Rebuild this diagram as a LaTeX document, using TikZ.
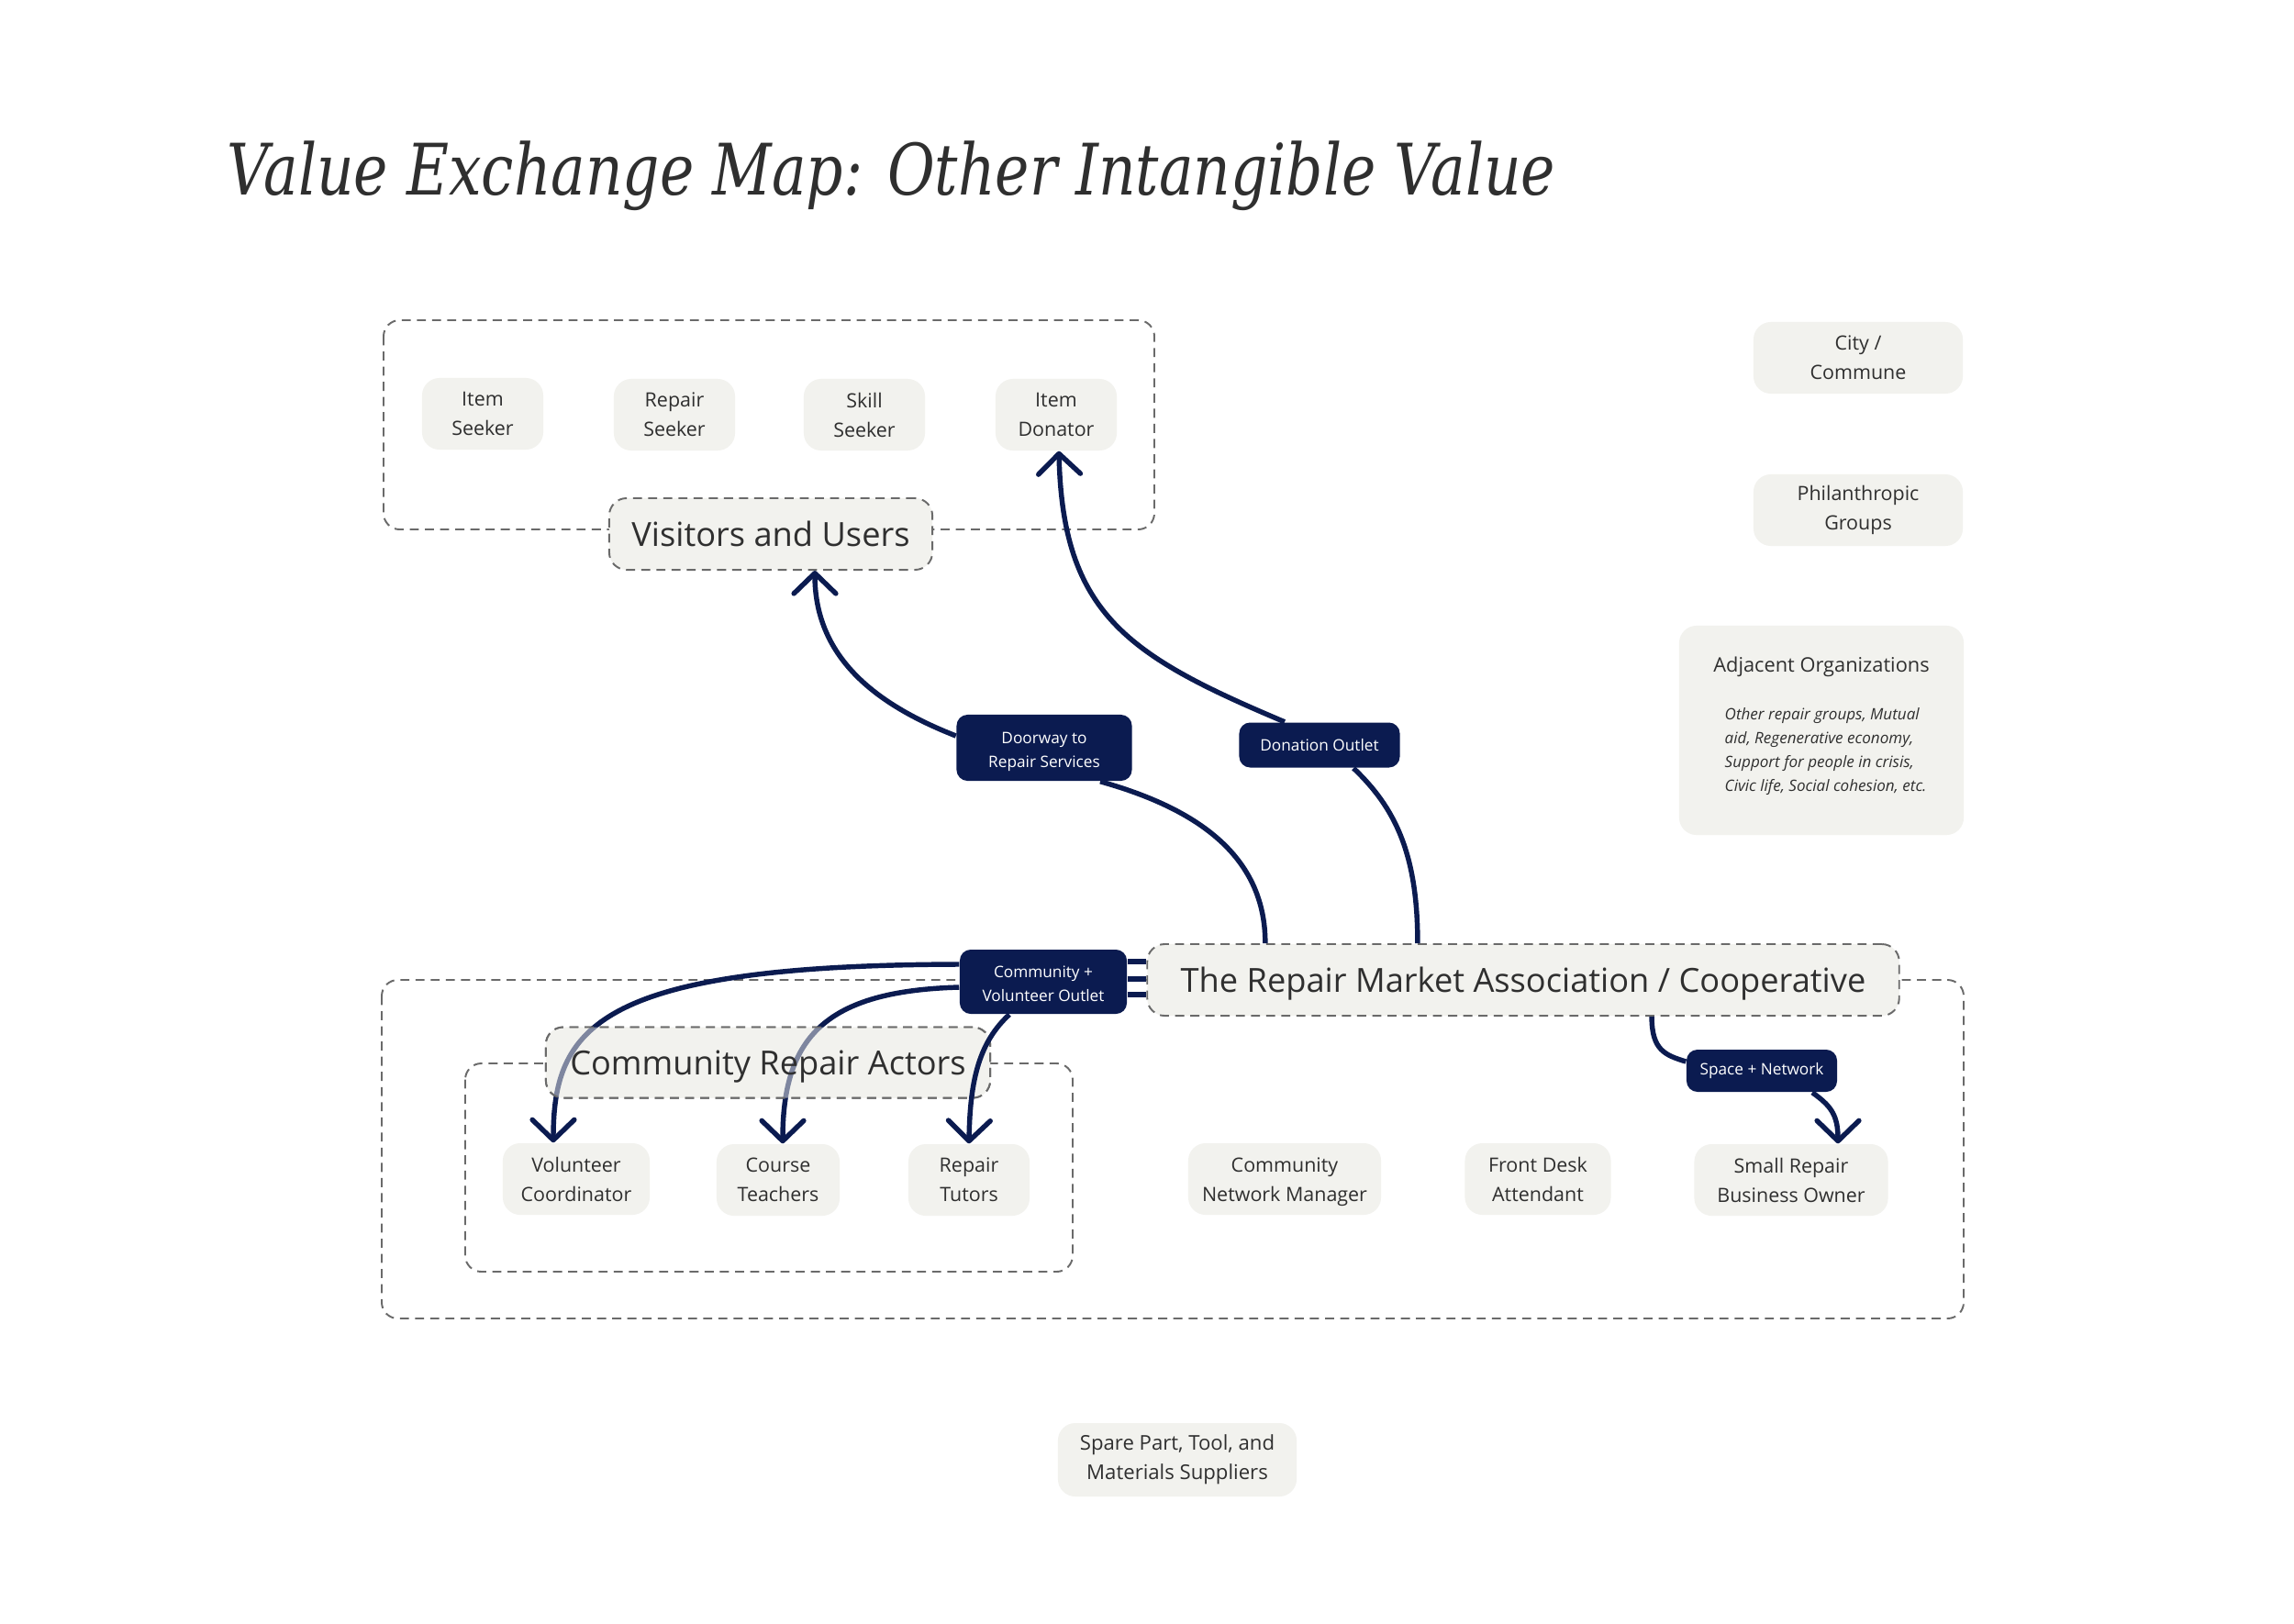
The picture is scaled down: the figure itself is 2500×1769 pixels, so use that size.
\documentclass[tikz,border=0pt]{standalone}
\usepackage{fontspec}
\setmainfont{Open Sans}
\newfontfamily\titlefont[FakeStretch=0.815]{DejaVu Serif}
\usetikzlibrary{arrows.meta}
\definecolor{navy}{HTML}{0B1B50}
\definecolor{paper}{HTML}{F2F2EE}
\definecolor{ink}{HTML}{2F2F2F}
\definecolor{dashc}{HTML}{6A6A6A}
\tikzset{
  actor/.style={fill=paper, rounded corners=5.4pt, inner sep=0pt, minimum height=0.78cm, align=center, text=ink, font=\fontsize{6.1}{9.1}\selectfont},
  groupbox/.style={draw=dashc, line width=0.55pt, dash pattern=on 2.8pt off 1.9pt, rounded corners=5pt},
  grouplabel/.style={fill=paper, draw=dashc, line width=0.55pt, dash pattern=on 2.8pt off 1.9pt, rounded corners=5.4pt, inner sep=0pt, minimum height=0.78cm, text height=0.78em, text depth=0pt, text=ink, font=\fontsize{10.3}{12}\selectfont},
  tag/.style={fill=navy, rounded corners=3.4pt, inner sep=0pt, align=center, text=white, font=\fontsize{4.9}{7.3}\selectfont},
  conn/.style={draw=navy, line width=1.55pt},
  arr/.style={-{Straight Barb[length=6.3pt,width=13pt,round]}}
}
\begin{document}
\begin{tikzpicture}[x=0.01cm, y=-0.01cm]
\useasboundingbox (0,0) rectangle (2500,1769);
\fill[white] (0,0) rectangle (2500,1769);

% title
\node[anchor=base west, inner sep=0pt, text=ink, font=\titlefont\itshape\fontsize{22}{26}\selectfont] (title) at (247,212) {Value Exchange Map: Other Intangible Value};

% group boxes
\draw[groupbox] (418,349) rectangle (1258,577);
\draw[groupbox] (416,1068) rectangle (2140,1437);
\draw[groupbox] (507,1159) rectangle (1169,1386);

% visitors and users
\node[actor, minimum width=1.32cm] (itemseek) at (526,451) {Item\\Seeker};
\node[actor, minimum width=1.32cm] (repseek) at (735,452) {Repair\\Seeker};
\node[actor, minimum width=1.32cm] (skillseek) at (942,452) {Skill\\Seeker};
\node[actor, minimum width=1.32cm] (donor) at (1151,452) {Item\\Donator};
\node[grouplabel, minimum width=3.52cm] (vis) at (840,582) {Visitors and Users};

% right column
\node[actor, minimum width=2.28cm] (city) at (2025,390) {City /\\Commune};
\node[actor, minimum width=2.28cm] (phil) at (2025,556) {Philanthropic\\Groups};
\node[actor, minimum width=3.10cm, minimum height=2.28cm] (adj) at (1985,796) {};
\node[inner sep=0pt, text=ink, font=\fontsize{6.2}{8}\selectfont] (adjtitle) at (1985,727) {Adjacent Organizations};
\node[inner sep=0pt, anchor=west, align=left, text=ink, font=\itshape\fontsize{4.85}{7.4}\selectfont] (adjtext) at (1879,819) {Other repair groups, Mutual\\aid, Regenerative economy,\\Support for people in crisis,\\Civic life, Social cohesion, etc.};

% association
\node[grouplabel, minimum width=8.19cm] (rma) at (1660,1068) {The Repair Market Association / Cooperative};

% community repair actors
\node[grouplabel, minimum width=4.84cm, minimum height=0.77cm] (crabg) at (837,1158) {};

% bottom row
\node[actor, minimum width=1.60cm] (vc) at (628,1285) {Volunteer\\Coordinator};
\node[actor, minimum width=1.34cm] (ct) at (848,1286) {Course\\Teachers};
\node[actor, minimum width=1.32cm] (rt) at (1056,1286) {Repair\\Tutors};
\node[actor, minimum width=2.10cm] (cnm) at (1400,1285) {\rule{0pt}{1.07em}Community\\Network Manager};
\node[actor, minimum width=1.59cm] (fda) at (1676,1285) {Front Desk\\Attendant};
\node[actor, minimum width=2.11cm] (sbo) at (1952,1286) {Small Repair\\Business Owner};
\node[actor, minimum width=2.60cm, minimum height=0.80cm, font=\fontsize{6.3}{9.2}\selectfont] (spare) at (1283,1591) {Spare Part, Tool, and\\Materials Suppliers};

% tags
\node[tag, minimum width=1.91cm, minimum height=0.72cm] (door) at (1138,815) {\rule{0pt}{1.25em}Doorway to\\Repair Services};
\node[tag, minimum width=1.75cm, minimum height=0.49cm] (don) at (1438,812) {Donation Outlet};
\node[tag, minimum width=1.82cm, minimum height=0.70cm] (out) at (1137,1070) {\rule{0pt}{1.0em}Community +\\Volunteer Outlet};
\node[tag, minimum width=1.64cm, minimum height=0.46cm] (sn) at (1920,1167) {Space + Network};

% connectors
\draw[conn, arr] ([yshift=0.13cm]door.west) .. controls (960,770) and (888,720) .. ([xshift=0.48cm]vis.south);
\draw[conn] ([xshift=-2.81cm]rma.north) .. controls (1379,930) and (1300,880) .. ([xshift=0.61cm]door.south);
\draw[conn, arr] ([xshift=-0.38cm]don.north) .. controls (1230,715) and (1158,670) .. ([xshift=0.03cm]donor.south);
\draw[conn] ([xshift=-1.15cm]rma.north) .. controls (1545,930) and (1520,880) .. ([xshift=0.37cm]don.south);

\draw[conn] ([yshift=0.22cm]out.east) -- ([yshift=0.22cm]out.east -| rma.west);
\draw[conn] ([yshift=0.03cm]out.east) -- ([yshift=0.03cm]out.east -| rma.west);
\draw[conn] ([yshift=-0.14cm]out.east) -- ([yshift=-0.14cm]out.east -| rma.west);

\draw[conn, arr] ([yshift=0.19cm]out.west) .. controls (650,1052) and (603,1120) .. ([xshift=-0.25cm]vc.north);
\draw[conn, arr] ([yshift=-0.06cm]out.west) .. controls (900,1080) and (853,1130) .. ([xshift=0.05cm]ct.north);

% translucent label over the two arrows
\node[grouplabel, minimum width=4.84cm, minimum height=0.77cm, fill opacity=0.5, text opacity=1] (cra) at (837,1158) {Community Repair Actors};

\draw[conn, arr] ([xshift=-0.37cm]out.south) .. controls (1068,1135) and (1057,1175) .. (rt.north);
\draw[conn] ([xshift=1.40cm]rma.south) .. controls (1800,1145) and (1815,1150) .. ([yshift=0.10cm]sn.west);
\draw[conn, arr] ([xshift=0.55cm]sn.south) .. controls (1995,1205) and (2003,1215) .. ([xshift=0.51cm]sbo.north);
\end{tikzpicture}
\end{document}
